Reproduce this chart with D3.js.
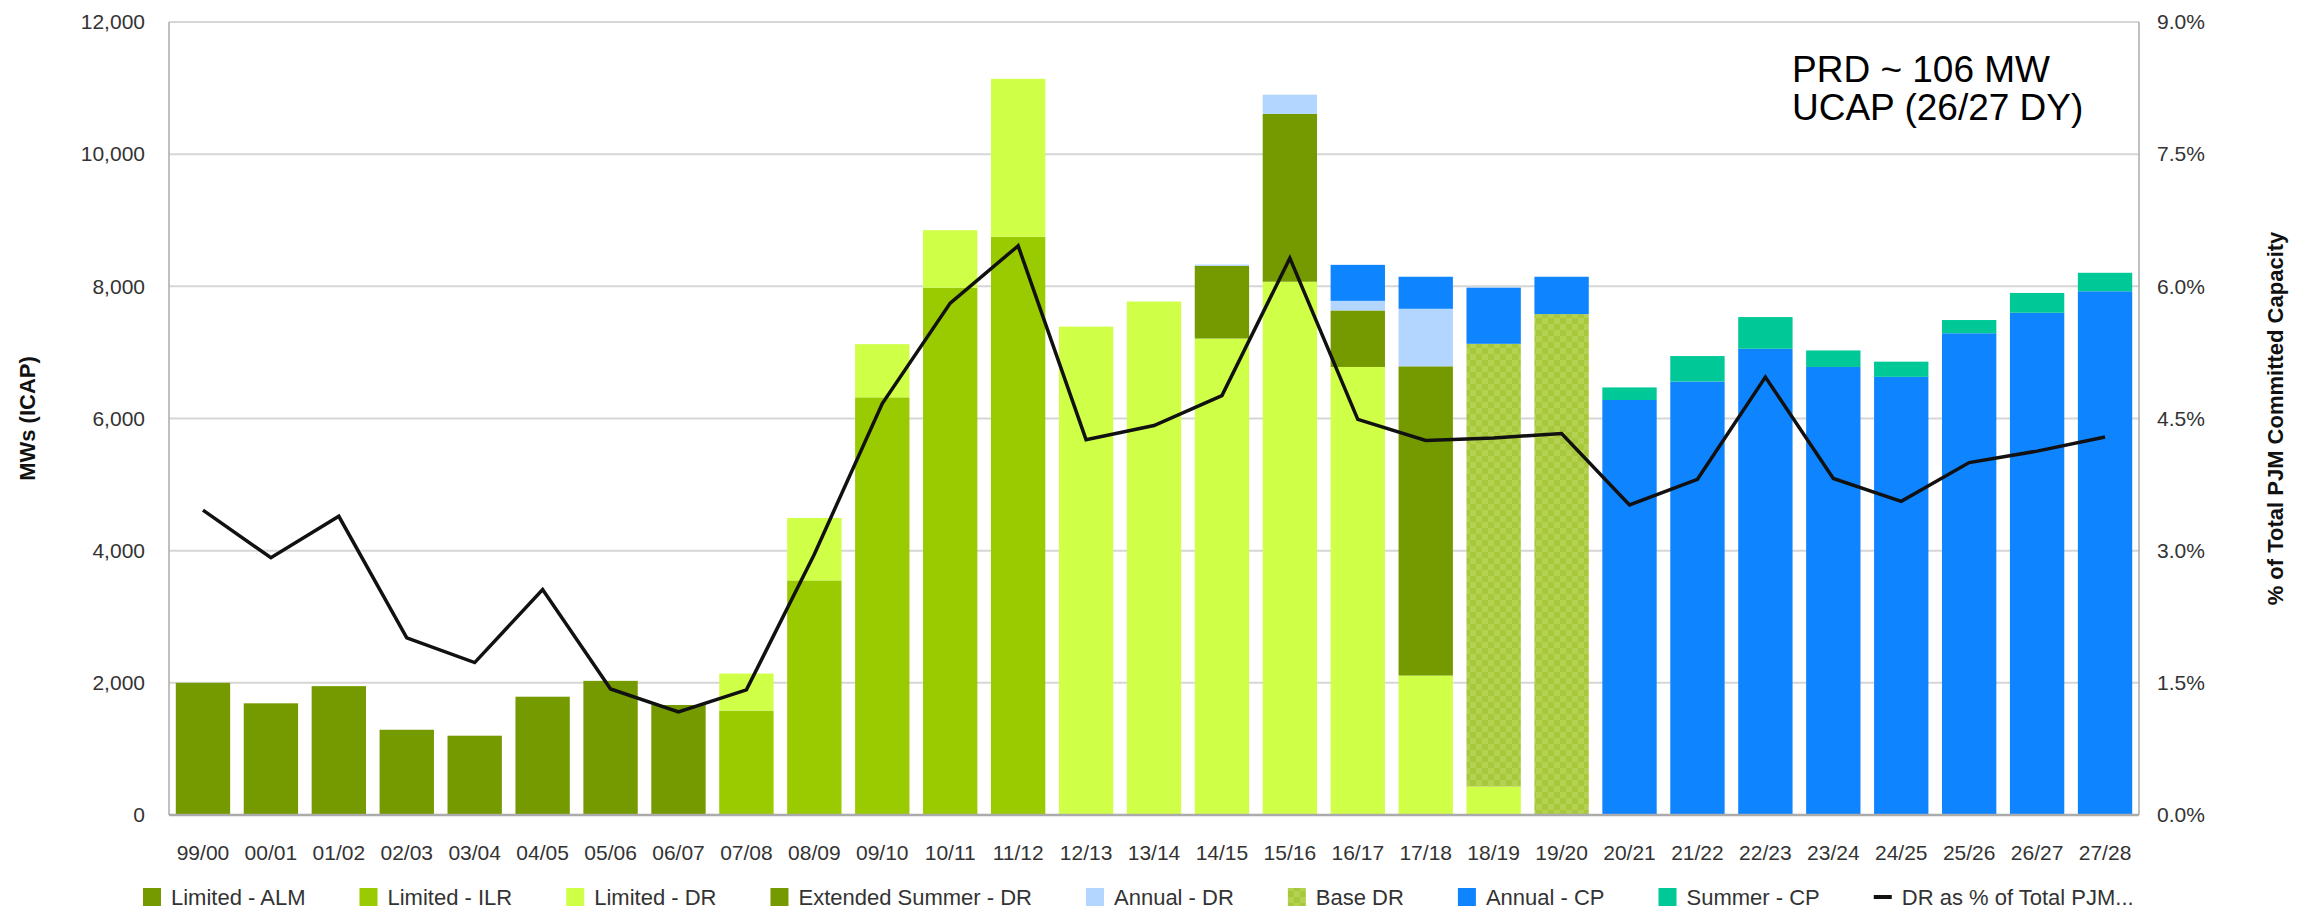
<!DOCTYPE html>
<html>
<head>
<meta charset="utf-8">
<script src="https://d3js.org/d3.v7.min.js"></script>
<style>
  body { margin: 0; background: #fff; }
  .lbl { font-family: "Liberation Sans", Arial, sans-serif; }
  .title { font-family: "Liberation Sans", Arial, sans-serif; font-weight: bold; }
</style>
</head>
<body>
<svg id="chart" width="2316" height="916"></svg>
<script>
// delivery years
var years = ["99/00","00/01","01/02","02/03","03/04","04/05","05/06","06/07","07/08","08/09",
             "09/10","10/11","11/12","12/13","13/14","14/15","15/16","16/17","17/18","18/19",
             "19/20","20/21","21/22","22/23","23/24","24/25","25/26","26/27","27/28"];

// MW by product (ICAP)
var limitedALM   = [2000,1690,1950,1290,1200,1790,2030,1665,0,0, 0,0,0,0,0,0,0,0,0,0, 0,0,0,0,0,0,0,0,0];
var limitedILR   = [0,0,0,0,0,0,0,0,1580,3550, 6320,7980,8750,0,0,0,0,0,0,0, 0,0,0,0,0,0,0,0,0];
var limitedDR    = [0,0,0,0,0,0,0,0,560,945, 805,870,2390,7390,7770,7210,8070,6780,2110,430, 0,0,0,0,0,0,0,0,0];
var extSummerDR  = [0,0,0,0,0,0,0,0,0,0, 0,0,0,0,0,1100,2540,855,4680,0, 0,0,0,0,0,0,0,0,0];
var annualDR     = [0,0,0,0,0,0,0,0,0,0, 0,0,0,0,0,20,290,145,870,0, 0,0,0,0,0,0,0,0,0];
var baseDR       = [0,0,0,0,0,0,0,0,0,0, 0,0,0,0,0,0,0,0,0,6700, 7580,0,0,0,0,0,0,0,0];
var annualCP     = [0,0,0,0,0,0,0,0,0,0, 0,0,0,0,0,0,0,545,485,850, 565,6280,6560,7055,6780,6630,7290,7600,7925];
var summerCP     = [0,0,0,0,0,0,0,0,0,0, 0,0,0,0,0,0,0,0,0,0, 0,190,385,480,250,230,200,300,280];

// DR as % of total PJM committed capacity
var drPercent = [3.46,2.92,3.39,2.01,1.73,2.56,1.43,1.17,1.42,2.96,
                 4.67,5.81,6.46,4.26,4.42,4.76,6.32,4.49,4.25,4.28,
                 4.33,3.52,3.81,4.97,3.82,3.56,4.00,4.13,4.29];

var seriesNames  = ["Limited - ALM","Limited - ILR","Limited - DR","Extended Summer - DR",
                    "Annual - DR","Base DR","Annual - CP","Summer - CP"];
var seriesValues = [limitedALM, limitedILR, limitedDR, extSummerDR, annualDR, baseDR, annualCP, summerCP];
var seriesColors = ["#749a00","#99cb00","#d0ff47","#749a00","#b2d6ff","url(#checker)","#0f84ff","#00c896"];
var lineName = "DR as % of Total PJM...";

var leftTicks  = [0,2000,4000,6000,8000,10000,12000];
var rightTicks = [0,1.5,3,4.5,6,7.5,9];

// plot box (note: "top" is reserved on window, so use plot* names)
var plotLeft = 169, plotRight = 2139, plotTop = 22, plotBottom = 815;

var svg = d3.select("#chart");

// checker pattern for Base DR
var pat = svg.append("defs").append("pattern")
    .attr("id", "checker").attr("width", 12).attr("height", 12)
    .attr("patternUnits", "userSpaceOnUse");
pat.append("rect").attr("width", 12).attr("height", 12).attr("fill", "#a8c83c");
pat.append("rect").attr("width", 6).attr("height", 6).attr("fill", "#b4d152");
pat.append("rect").attr("x", 6).attr("y", 6).attr("width", 6).attr("height", 6).attr("fill", "#b4d152");

var x = d3.scaleBand().domain(years).range([plotLeft, plotRight]).paddingInner(0.2).paddingOuter(0.1);
var y = d3.scaleLinear().domain([0, 12000]).range([plotBottom, plotTop]);
var y2 = d3.scaleLinear().domain([0, 9]).range([plotBottom, plotTop]);

// gridlines
svg.append("g").selectAll("line").data(leftTicks.slice(1)).join("line")
    .attr("x1", plotLeft).attr("x2", plotRight)
    .attr("y1", d => y(d)).attr("y2", d => y(d))
    .attr("stroke", "#d6d6d6").attr("stroke-width", 2);

// stacked bars
var rows = years.map(function (yr, i) {
    var r = { year: yr };
    seriesNames.forEach(function (n, k) { r[n] = seriesValues[k][i]; });
    return r;
});
var stacked = d3.stack().keys(seriesNames)(rows);

svg.append("g").selectAll("g").data(stacked).join("g")
    .attr("fill", (d, k) => seriesColors[k])
    .selectAll("rect").data(d => d.filter(p => p[1] > p[0])).join("rect")
    .attr("x", d => x(d.data.year))
    .attr("width", x.bandwidth())
    .attr("y", d => y(d[1]))
    .attr("height", d => y(d[0]) - y(d[1]));

// axes frame
svg.append("line").attr("x1", plotLeft).attr("x2", plotLeft).attr("y1", plotTop).attr("y2", plotBottom)
    .attr("stroke", "#ababab").attr("stroke-width", 1.5);
svg.append("line").attr("x1", plotRight).attr("x2", plotRight).attr("y1", plotTop).attr("y2", plotBottom)
    .attr("stroke", "#ababab").attr("stroke-width", 1.5);
svg.append("line").attr("x1", plotLeft).attr("x2", plotRight).attr("y1", plotBottom).attr("y2", plotBottom)
    .attr("stroke", "#ababab").attr("stroke-width", 2.5);

// line series
var line = d3.line().x((d, i) => x(years[i]) + x.bandwidth() / 2).y(d => y2(d));
svg.append("path").datum(drPercent)
    .attr("d", line).attr("fill", "none")
    .attr("stroke", "#111").attr("stroke-width", 3.5).attr("stroke-linejoin", "miter");

// axes
var gl = svg.append("g").attr("transform", "translate(" + plotLeft + ",0)")
    .call(d3.axisLeft(y).tickValues(leftTicks).tickSize(0).tickPadding(24).tickFormat(d3.format(",")));
var gr = svg.append("g").attr("transform", "translate(" + plotRight + ",0)")
    .call(d3.axisRight(y2).tickValues(rightTicks).tickSize(0).tickPadding(18).tickFormat(d => d.toFixed(1) + "%"));
var gb = svg.append("g").attr("transform", "translate(0," + plotBottom + ")")
    .call(d3.axisBottom(x).tickSize(0).tickPadding(30));
[gl, gr, gb].forEach(function (g) {
    g.select(".domain").remove();
    g.selectAll("text").attr("class", "lbl").attr("font-size", 21).attr("fill", "#333");
});

// axis titles
svg.append("text").attr("class", "title").attr("font-size", 22).attr("fill", "#111")
    .attr("transform", "translate(35," + ((plotTop + plotBottom) / 2) + ") rotate(-90)")
    .attr("text-anchor", "middle").text("MWs (ICAP)");
svg.append("text").attr("class", "title").attr("font-size", 22).attr("fill", "#111")
    .attr("transform", "translate(2283," + ((plotTop + plotBottom) / 2) + ") rotate(-90)")
    .attr("text-anchor", "middle").text("% of Total PJM Committed Capacity");

// annotation
var note = svg.append("text").attr("class", "lbl").attr("font-size", 37).attr("fill", "#000")
    .attr("x", 1792).attr("y", 82);
note.append("tspan").attr("x", 1792).text("PRD ~ 106 MW");
note.append("tspan").attr("x", 1792).attr("dy", 38).text("UCAP (26/27 DY)");

// legend
var legend = svg.append("g").attr("transform", "translate(143,897)");
var lx = 0;
seriesNames.concat([lineName]).forEach(function (name, k) {
    var item = legend.append("g").attr("transform", "translate(" + lx + ",0)");
    if (k < seriesNames.length) {
        item.append("rect").attr("x", 0).attr("y", -9).attr("width", 18).attr("height", 18)
            .attr("fill", seriesColors[k]);
    } else {
        item.append("line").attr("x1", 0).attr("x2", 18).attr("y1", 0).attr("y2", 0)
            .attr("stroke", "#111").attr("stroke-width", 4);
    }
    var t = item.append("text").attr("class", "lbl").attr("font-size", 22).attr("fill", "#333")
        .attr("x", 28).attr("dy", "0.35em").text(name);
    lx += 28 + t.node().getComputedTextLength() + 54;
});
</script>
</body>
</html>
